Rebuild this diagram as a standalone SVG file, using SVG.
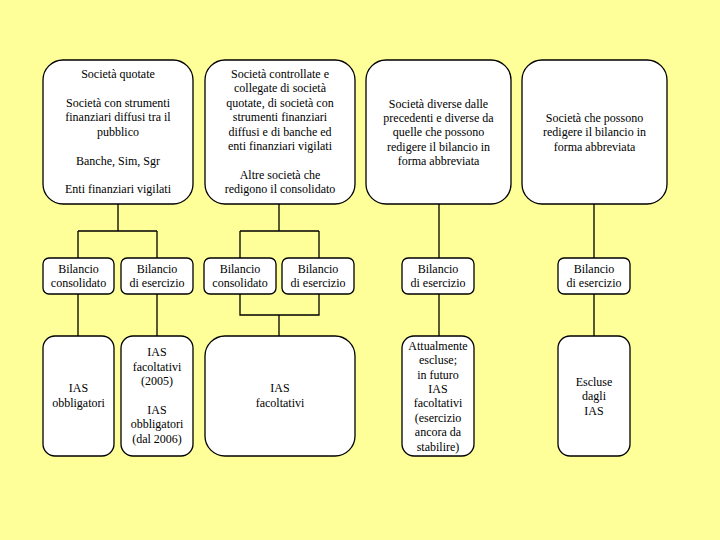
<svg xmlns="http://www.w3.org/2000/svg" width="720" height="540" viewBox="0 0 720 540">
<style>
.bx{fill:#ffffff;stroke:#000000;stroke-width:1.3}
.ln{fill:none;stroke:#000000;stroke-width:1.3}
</style>
<rect x="0" y="0" width="720" height="540" fill="#ffff99"/>
<g id="connectors">
<path class="ln" d="M118 204V231M78 231H157M78 231V258M157 231V258"/>
<path class="ln" d="M279 204V231M240 231H319M240 231V258M319 231V258"/>
<path class="ln" d="M439 204V258M594 204V258"/>
<path class="ln" d="M78 294V336M157 294V336"/>
<path class="ln" d="M240 294V315H319V294M279 315V336"/>
<path class="ln" d="M439 294V336M594 294V336"/>
</g>
<g font-family="Liberation Serif, 'Times New Roman', serif" font-size="12" fill="#000000" text-anchor="middle">
<g id="n1"><rect class="bx" x="43" y="60" width="150" height="144" rx="20"/>
<text x="118" y="78">Società quotate</text>
<text x="118" y="107">Società con strumenti</text>
<text x="118" y="121.4">finanziari diffusi tra il</text>
<text x="118" y="135.8">pubblico</text>
<text x="118" y="164.6">Banche, Sim, Sgr</text>
<text x="118" y="193.4">Enti finanziari vigilati</text></g>
<g id="n2"><rect class="bx" x="205" y="60" width="150" height="144" rx="20"/>
<text x="280" y="78">Società controllate e</text>
<text x="280" y="92.4">collegate di società</text>
<text x="280" y="106.8">quotate, di società con</text>
<text x="280" y="121.2">strumenti finanziari</text>
<text x="280" y="135.6">diffusi e di banche ed</text>
<text x="280" y="150">enti finanziari vigilati</text>
<text x="280" y="178.8">Altre società che</text>
<text x="280" y="193.2">redigono il consolidato</text></g>
<g id="n3"><rect class="bx" x="366" y="60" width="145" height="144" rx="20"/>
<text x="438.5" y="107.5">Società diverse dalle</text>
<text x="438.5" y="121.9">precedenti e diverse da</text>
<text x="438.5" y="136.3">quelle che possono</text>
<text x="438.5" y="150.7">redigere il bilancio in</text>
<text x="438.5" y="165.1">forma abbreviata</text></g>
<g id="n4"><rect class="bx" x="522" y="60" width="145" height="144" rx="20"/>
<text x="594.5" y="122">Società che possono</text>
<text x="594.5" y="136.4">redigere il bilancio in</text>
<text x="594.5" y="150.8">forma abbreviata</text></g>
<g id="b1"><rect class="bx" x="43" y="258" width="71" height="36" rx="6"/>
<text x="78.5" y="273">Bilancio</text><text x="78.5" y="287.4">consolidato</text></g>
<g id="b2"><rect class="bx" x="121" y="258" width="72" height="36" rx="6"/>
<text x="157" y="273">Bilancio</text><text x="157" y="287.4">di esercizio</text></g>
<g id="b3"><rect class="bx" x="204" y="258" width="72" height="36" rx="6"/>
<text x="240" y="273">Bilancio</text><text x="240" y="287.4">consolidato</text></g>
<g id="b4"><rect class="bx" x="282" y="258" width="72" height="36" rx="6"/>
<text x="318" y="273">Bilancio</text><text x="318" y="287.4">di esercizio</text></g>
<g id="b5"><rect class="bx" x="402" y="258" width="72" height="36" rx="6"/>
<text x="438" y="273">Bilancio</text><text x="438" y="287.4">di esercizio</text></g>
<g id="b6"><rect class="bx" x="558" y="258" width="72" height="36" rx="6"/>
<text x="594" y="273">Bilancio</text><text x="594" y="287.4">di esercizio</text></g>
<g id="r1"><rect class="bx" x="43" y="336" width="71" height="120" rx="12"/>
<text x="78.5" y="392.3">IAS</text><text x="78.5" y="406.7">obbligatori</text></g>
<g id="r2"><rect class="bx" x="121" y="336" width="72" height="120" rx="12"/>
<text x="157" y="356.3">IAS</text><text x="157" y="370.7">facoltativi</text><text x="157" y="385.1">(2005)</text>
<text x="157" y="413.9">IAS</text><text x="157" y="428.3">obbligatori</text><text x="157" y="442.7">(dal 2006)</text></g>
<g id="r3"><rect class="bx" x="205" y="336" width="150" height="120" rx="20"/>
<text x="280" y="392.3">IAS</text><text x="280" y="406.7">facoltativi</text></g>
<g id="r4"><rect class="bx" x="402" y="336" width="72" height="120" rx="12"/>
<text x="438" y="349.7">Attualmente</text><text x="438" y="364.1">escluse;</text><text x="438" y="378.5">in futuro</text>
<text x="438" y="392.9">IAS</text><text x="438" y="407.3">facoltativi</text><text x="438" y="421.7">(esercizio</text>
<text x="438" y="436.1">ancora da</text><text x="438" y="450.5">stabilire)</text></g>
<g id="r5"><rect class="bx" x="558" y="336" width="72" height="120" rx="12"/>
<text x="594" y="385.7">Escluse</text><text x="594" y="400.1">dagli</text><text x="594" y="414.5">IAS</text></g>
</g>
</svg>
